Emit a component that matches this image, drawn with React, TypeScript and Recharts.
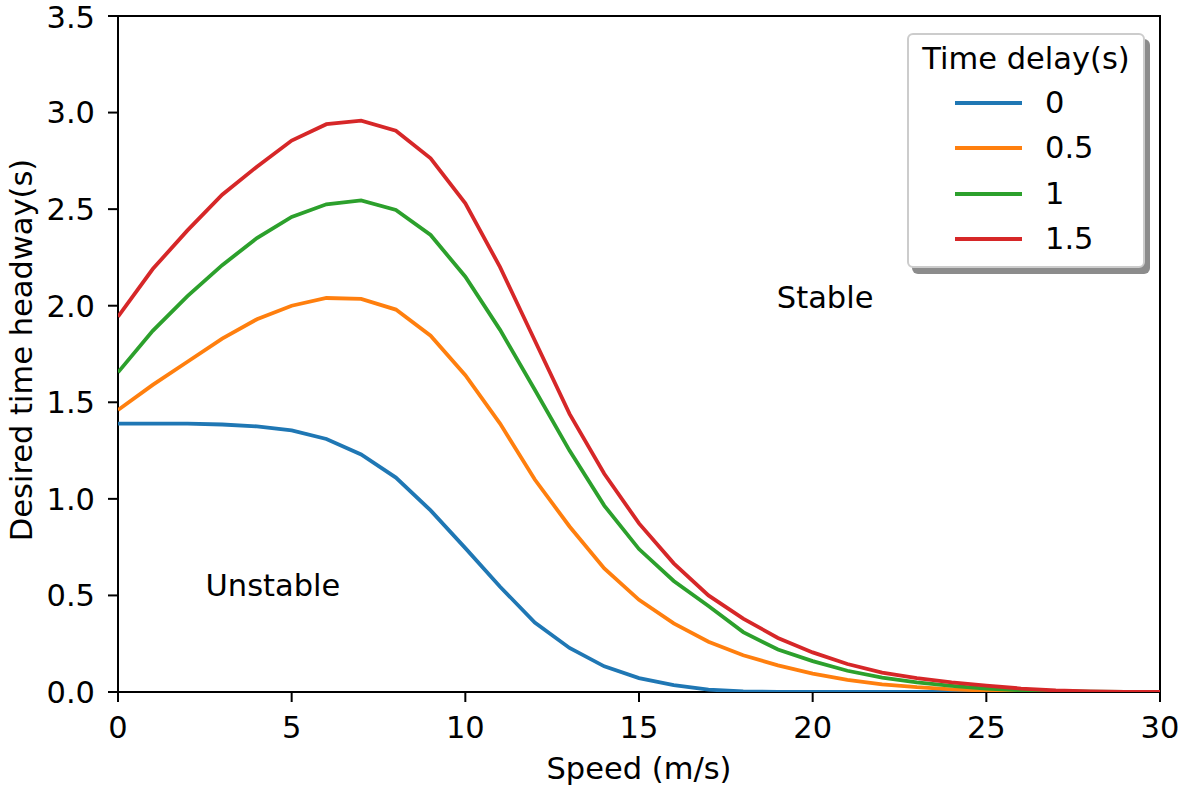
import React from 'react';
import { LineChart, Line, XAxis, YAxis, Legend, ReferenceArea, ReferenceDot } from 'recharts';

const speeds = [0, 1, 2, 3, 4, 5, 6, 7, 8, 9, 10, 11, 12, 13, 14, 15, 16, 17, 18, 19, 20, 21, 22, 23, 24, 25, 26, 27, 28, 29, 30];
const delay0 = [1.39, 1.39, 1.39, 1.385, 1.375, 1.355, 1.31, 1.23, 1.11, 0.94, 0.745, 0.545, 0.36, 0.228, 0.133, 0.072, 0.036, 0.012, 0.003, 0.001, 0, 0, 0, 0, 0, 0, 0, 0, 0, 0, 0];
const delay05 = [1.46, 1.59, 1.71, 1.83, 1.93, 2.0, 2.04, 2.035, 1.98, 1.845, 1.64, 1.39, 1.1, 0.857, 0.64, 0.477, 0.355, 0.26, 0.19, 0.138, 0.095, 0.063, 0.04, 0.025, 0.014, 0.007, 0.003, 0.001, 0, 0, 0];
const delay1 = [1.655, 1.87, 2.05, 2.21, 2.35, 2.46, 2.525, 2.545, 2.496, 2.366, 2.15, 1.875, 1.565, 1.25, 0.965, 0.74, 0.575, 0.445, 0.31, 0.22, 0.16, 0.11, 0.075, 0.05, 0.032, 0.018, 0.009, 0.004, 0.002, 0.001, 0];
const delay15 = [1.943, 2.19, 2.39, 2.575, 2.72, 2.855, 2.94, 2.958, 2.906, 2.763, 2.53, 2.2, 1.82, 1.44, 1.13, 0.873, 0.666, 0.5, 0.38, 0.28, 0.205, 0.145, 0.1, 0.072, 0.05, 0.033, 0.018, 0.008, 0.003, 0.001, 0];

const seriesNames = ['0', '0.5', '1', '1.5'];
const seriesKeys = ['d0', 'd05', 'd1', 'd15'];
const seriesColors = ['#1f77b4', '#ff7f0e', '#2ca02c', '#d62728'];
const xTicks = [0, 5, 10, 15, 20, 25, 30];
const yTicks = [0, 0.5, 1.0, 1.5, 2.0, 2.5, 3.0, 3.5];
const legendTitle = 'Time delay(s)';
const xLabel = 'Speed (m/s)';
const yLabel = 'Desired time headway(s)';
const annotations = [
  { x: 20.36, y: 2.045, text: 'Stable' },
  { x: 4.46, y: 0.554, text: 'Unstable' },
];

const data = speeds.map((s, i) => ({
  speed: s,
  d0: delay0[i],
  d05: delay05[i],
  d1: delay1[i],
  d15: delay15[i],
}));

const FONT = '"DejaVu Sans", sans-serif';
const FS = 30.5;

const LegendBox = (props: any) => {
  const payload = props.payload || [];
  return (
    <div
      style={{
        width: 234,
        height: 231,
        border: '2px solid #cccccc',
        borderRadius: 6,
        background: '#fff',
        boxShadow: '5px 6px 0 #8c8c8c',
        fontFamily: FONT,
        fontSize: FS,
        color: '#000',
        boxSizing: 'content-box',
        position: 'relative',
      }}
    >
      <div style={{ position: 'absolute', left: 0, width: '100%', top: 6, textAlign: 'center', lineHeight: '36px' }}>
        {legendTitle}
      </div>
      {payload.map((p: any, i: number) => (
        <div key={i} style={{ position: 'absolute', left: 0, top: 50 + i * 45.3, height: 36, width: '100%' }}>
          <div style={{ position: 'absolute', left: 46, top: 16, width: 67, height: 4, background: p.color }} />
          <div style={{ position: 'absolute', left: 136, top: 0, lineHeight: '36px' }}>{p.value}</div>
        </div>
      ))}
    </div>
  );
};

export default function App() {
  return (
    <div style={{ position: 'fixed', left: 0, top: 0, width: 1181, height: 791, background: '#fff' }}>
      <LineChart
        width={1181}
        height={791}
        data={data}
        margin={{ top: 16, right: 21, left: 8, bottom: 39 }}
        style={{ background: '#fff', overflow: 'visible' }}
      >
        <XAxis
          dataKey="speed"
          type="number"
          domain={[0, 30]}
          ticks={xTicks}
          allowDataOverflow
          height={60}
          tickSize={10}
          tickMargin={14}
          axisLine={false}
          tickLine={{ stroke: '#000', strokeWidth: 2 }}
          tick={{ fill: '#000', fontSize: FS, fontFamily: FONT }}
          label={(p: any) => {
            const vb = p.viewBox || { x: 118, width: 1042 };
            return (
              <text x={vb.x + vb.width / 2} y={779} textAnchor="middle" fontSize={FS} fontFamily={FONT} fill="#000">
                {xLabel}
              </text>
            );
          }}
        />
        <YAxis
          type="number"
          domain={[0, 3.5]}
          ticks={yTicks}
          allowDataOverflow
          width={110}
          tickSize={10}
          tickMargin={13}
          axisLine={false}
          tickLine={{ stroke: '#000', strokeWidth: 2 }}
          tick={{ fill: '#000', fontSize: FS, fontFamily: FONT }}
          tickFormatter={(v: number) => v.toFixed(1)}
          label={() => (
            <text
              x={32}
              y={350}
              transform="rotate(-90 32 350)"
              textAnchor="middle"
              fontSize={FS}
              fontFamily={FONT}
              fill="#000"
            >
              {yLabel}
            </text>
          )}
        />
        {seriesKeys.map((k, i) => (
          <Line
            key={k}
            dataKey={k}
            name={seriesNames[i]}
            stroke={seriesColors[i]}
            strokeWidth={3.8}
            dot={false}
            activeDot={false}
            type="linear"
            isAnimationActive={false}
          />
        ))}
        <ReferenceArea x1={0} x2={30} y1={0} y2={3.5} fill="none" stroke="#000" strokeWidth={2} ifOverflow="visible" />
        {annotations.map((a, i) => (
          <ReferenceDot
            key={i}
            x={a.x}
            y={a.y}
            r={0}
            fill="none"
            stroke="none"
            ifOverflow="visible"
            label={{ value: a.text, position: 'center', fontSize: FS, fontFamily: FONT, fill: '#000' }}
          />
        ))}
        <Legend
          layout="horizontal"
          verticalAlign="middle"
          align="center"
          content={<LegendBox />}
          wrapperStyle={{ left: 907, top: 33, width: 240, height: 240 }}
        />
      </LineChart>
    </div>
  );
}
